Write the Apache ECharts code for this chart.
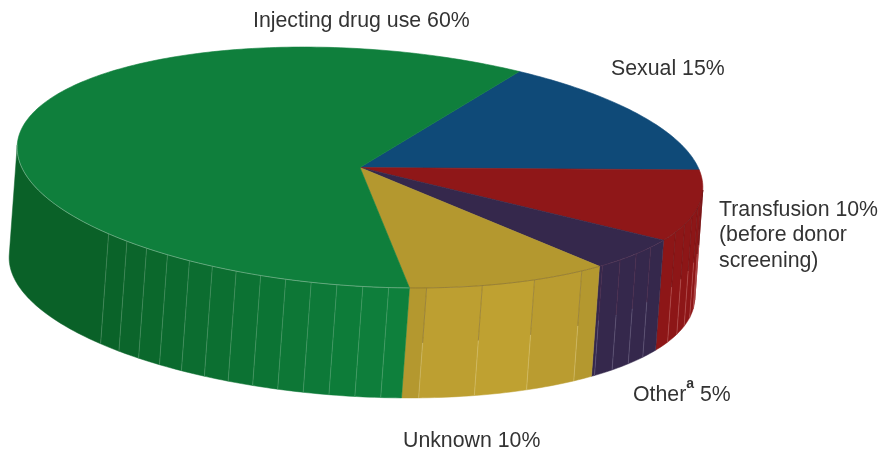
<!DOCTYPE html>
<html>
<head>
<meta charset="utf-8">
<style>html,body{margin:0;padding:0;background:#fff}#c{width:879px;height:450px}</style>
<script src="https://cdn.jsdelivr.net/npm/echarts@6/dist/echarts.min.js"></script>
</head>
<body>
<div id="c"></div>
<script>
// Data
const categories = ['Sexual', 'Transfusion', 'Other', 'Unknown', 'Injecting drug use'];
const shares = [15, 10, 5, 10, 60];

// Style
const topColors = ['#0f4a78', '#8f1718', '#35284c', '#b4982f', '#0f7f3c'];
const labelTexts = [
  'Sexual 15%',
  'Transfusion 10%\n(before donor\nscreening)',
  '{t|Other}{s|a}{t| 5%}',
  'Unknown 10%',
  'Injecting drug use 60%'
];
const labelAnchors = [[611, 69], [719, 197], [633, 395], [403, 441], [253, 21]];
const facetSteps = [0, 4.33, 4.33, 9.7, 4.33];
const facetOffsets = [0, 1, 4.3, 4, 3.5];
const facetEnds = [0, 27, 45, 81, 137];

// Projection layout of the disc
const CX = 360, CY = 167.5, RX = 343.5, RY = 118.6, TILT = 3.75 * Math.PI / 180;
const EXT_X = -8, EXT_Y = 110, START = -63.6;
const FONT = '21.3px "Liberation Sans", Arial, sans-serif';

function rim(deg, dropped) {
  const t = deg * Math.PI / 180;
  const u = RX * Math.cos(t), v = RY * Math.sin(t);
  const x = CX + u * Math.cos(TILT) - v * Math.sin(TILT);
  const y = CY + u * Math.sin(TILT) + v * Math.cos(TILT);
  return dropped ? [x + EXT_X, y + EXT_Y] : [x, y];
}
function arc(a, b, dropped) {
  const out = [];
  for (let d = a; d < b; d += 1) out.push(rim(d, dropped));
  out.push(rim(b, dropped));
  return out;
}
function mix(a, b, k) {
  k = Math.max(0, Math.min(1, k));
  const r = a.map((c, i) => Math.round(c + (b[i] - c) * k));
  return 'rgb(' + r.join(',') + ')';
}
function sideColor(i, deg) {
  if (i === 4) return mix([14, 128, 60], [10, 97, 40], (deg - 83) / 54);
  if (i === 3) {
    if (deg < 49 || deg > 78) return '#b4982f';
    return mix([192, 162, 50], [184, 154, 47], Math.abs(deg - 66) / 18);
  }
  if (i === 2) return '#35284c';
  if (i === 1) return '#8d1617';
  return topColors[i];
}
const rimColors = ['#888', 'rgba(70,20,30,0.4)', 'rgba(110,60,90,0.5)', 'rgba(100,80,50,0.55)', 'rgba(215,225,215,0.55)'];
const lineTop = ['#888', 'rgba(70,10,20,0.35)', 'rgba(110,40,70,0.35)', 'rgba(100,85,60,0.45)', 'rgba(190,220,195,0.28)'];
const lineBottom = ['#888', 'rgba(240,170,170,0.35)', 'rgba(180,170,200,0.3)', 'rgba(235,225,170,0.4)', 'rgba(190,220,195,0.3)'];

function renderSlice(params, api) {
  const i = params.dataIndex;
  const total = shares.reduce((a, b) => a + b, 0);
  let from = START;
  for (let k = 0; k < i; k++) from += 360 * shares[k] / total;
  const to = from + 360 * api.value(0) / total;
  const children = [];

  // visible side wall: rim angles 0..180
  const a0 = Math.max(from, 0), a1 = Math.min(to, 180);
  if (a1 > a0) {
    const lines = [];
    if (facetSteps[i]) {
      for (let d = from + facetOffsets[i]; d <= Math.min(a1, facetEnds[i]) - 0.5; d += facetSteps[i]) {
        if (d > a0) lines.push(d);
      }
    }
    const edges = [a0].concat(lines, [a1]);
    for (let n = 0; n < edges.length - 1; n++) {
      const c = sideColor(i, (edges[n] + edges[n + 1]) / 2);
      children.push({
        type: 'polygon',
        shape: { points: arc(edges[n], edges[n + 1]).concat(arc(edges[n], edges[n + 1], true).reverse()) },
        style: { fill: c, stroke: c, lineWidth: 0.5 }, silent: true
      });
    }
    lines.forEach(d => {
      const p = rim(d), q = rim(d, true);
      const m = [(p[0] + q[0]) / 2, (p[1] + q[1]) / 2];
      children.push({ type: 'line', shape: { x1: p[0], y1: p[1], x2: m[0], y2: m[1] },
        style: { stroke: lineTop[i], lineWidth: 0.8 }, silent: true });
      children.push({ type: 'line', shape: { x1: m[0], y1: m[1], x2: q[0], y2: q[1] },
        style: { stroke: lineBottom[i], lineWidth: 0.8 }, silent: true });
    });
  }
  // top sector
  children.push({
    type: 'polygon', shape: { points: [[CX, CY]].concat(arc(from, to)) },
    style: { fill: topColors[i], stroke: topColors[i], lineWidth: 0.6 }, silent: true
  });
  // front rim highlight
  if (a1 > a0) {
    children.push({ type: 'polyline', shape: { points: arc(a0, a1) },
      style: { stroke: rimColors[i], lineWidth: 0.7, fill: null }, silent: true });
  }
  // label
  children.push({
    type: 'text', x: labelAnchors[i][0], y: labelAnchors[i][1], silent: true,
    style: {
      text: labelTexts[i], fill: '#333', align: 'left', verticalAlign: i === 1 ? 'top' : 'middle',
      font: FONT, lineHeight: 25.5,
      rich: {
        t: { font: FONT, fill: '#333' },
        s: { font: 'bold 14px "Liberation Sans", Arial, sans-serif', fill: '#333', verticalAlign: 'top', lineHeight: 36 }
      }
    }
  });
  return { type: 'group', children };
}

const chart = echarts.init(document.getElementById('c'), null, { renderer: 'canvas' });
chart.setOption({
  animation: false,
  backgroundColor: '#fff',
  series: [{
    type: 'custom',
    coordinateSystem: 'none',
    silent: true,
    renderItem: renderSlice,
    data: shares.map((v, i) => ({ name: categories[i], value: [v] }))
  }]
});
</script>
</body>
</html>
